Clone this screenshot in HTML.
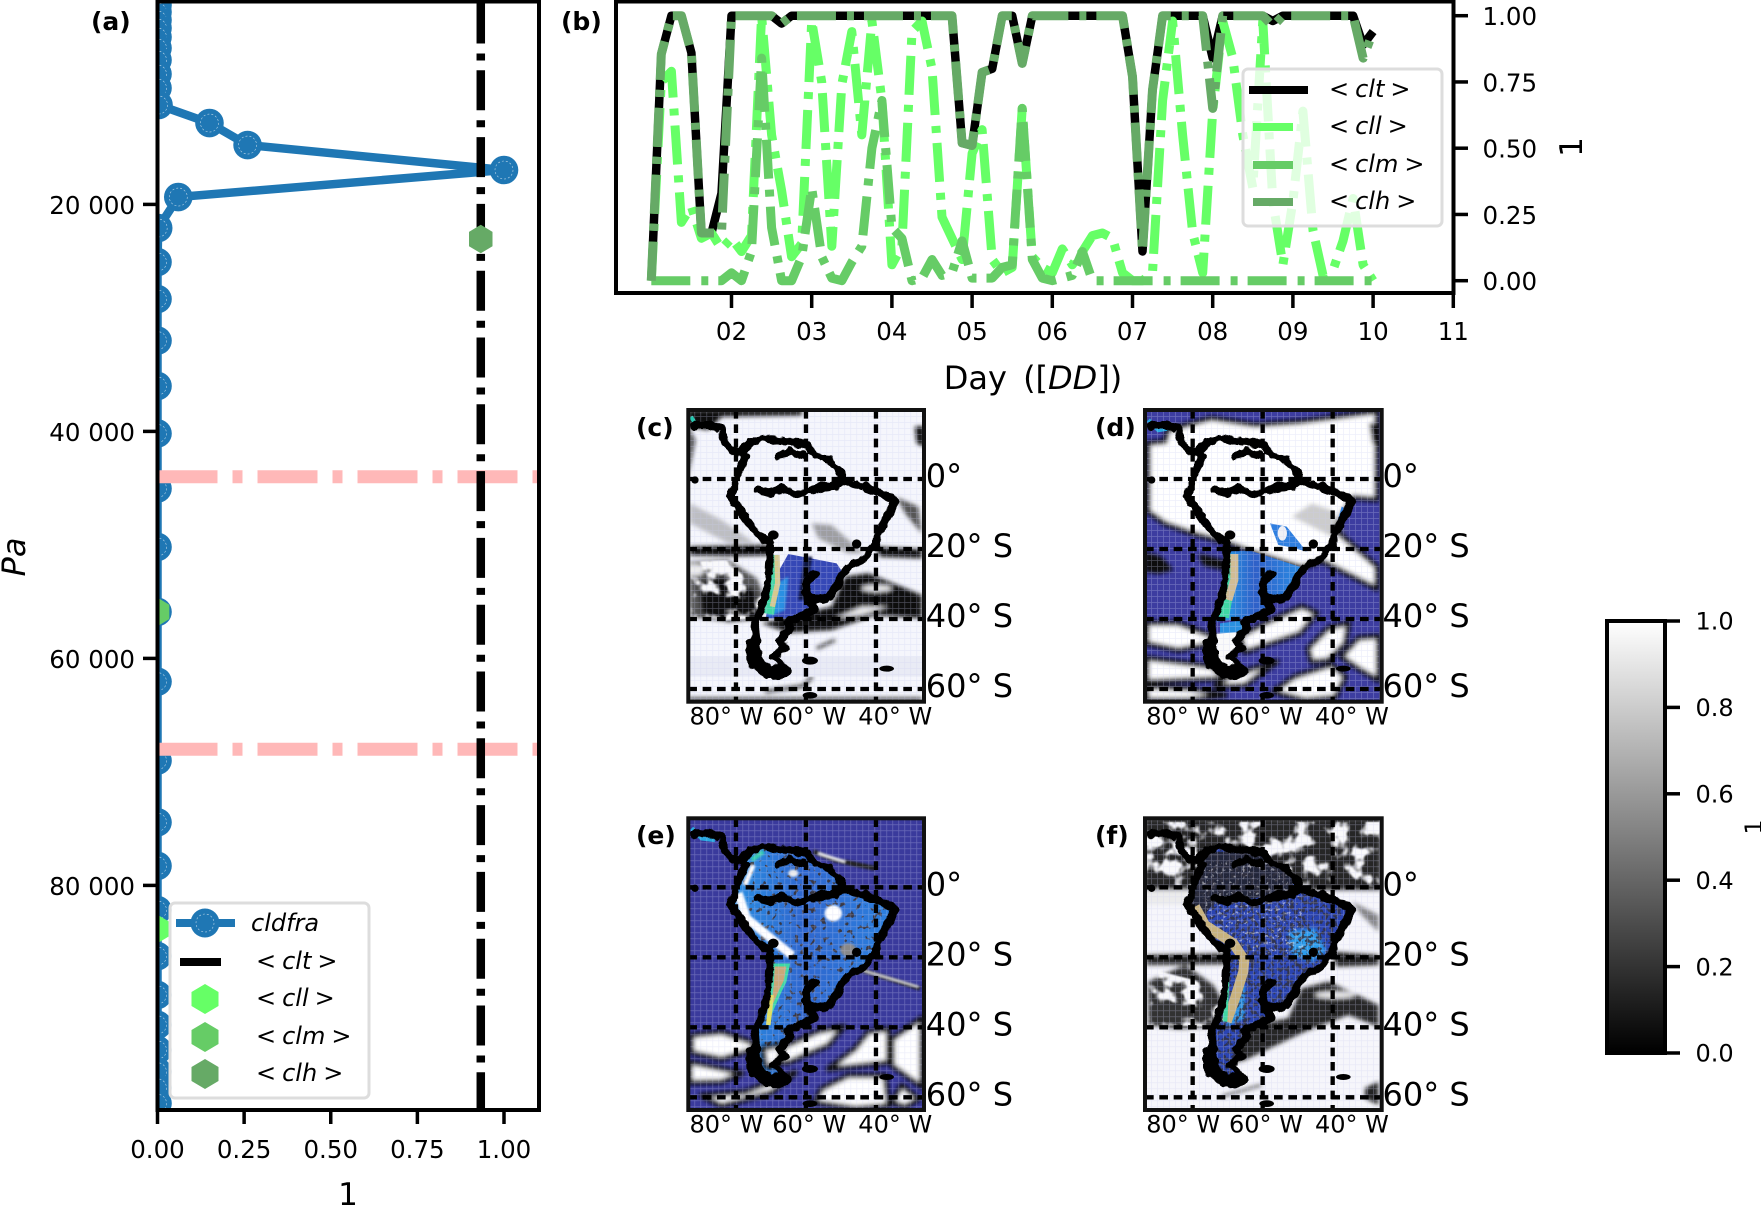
<!DOCTYPE html>
<html lang="en">
<head>
<meta charset="utf-8">
<title>Cloud fraction figure</title>
<style>
html,body{margin:0;padding:0;background:#fff;overflow:hidden}
svg{display:block}
text{font-family:"DejaVu Sans","Liberation Sans",sans-serif;fill:#000}
.cloud{fill:#fff;stroke:#111;stroke-width:16;stroke-linejoin:round}
.dark{fill:#111}
.grey{fill:#555}
.lgt{fill:#ececec}
.coast{fill:none;stroke:#000;stroke-width:24;stroke-linejoin:round;stroke-linecap:round}
.gl{stroke:#000;stroke-width:13;stroke-dasharray:26 17;fill:none}
.maptick{font-size:32px}
.maplon{font-size:24px}
.plabel{font-size:25px;font-weight:bold}
</style>
</head>
<body>
<svg id="fig" xmlns="http://www.w3.org/2000/svg" width="1761" height="1206" viewBox="0 0 1761 1206">
<defs>
  <clipPath id="clipA"><rect x="157.5" y="1.5" width="381.5" height="1108.5"/></clipPath>
  <clipPath id="clipMap"><rect x="0" y="0" width="707" height="875"/></clipPath>
  <clipPath id="clipLand"><path d="M155 130 185 100 225 85 275 95 345 100 385 135 425 150 450 180 465 210 525 232 585 250 620 275 595 320 570 370 560 410 525 445 475 475 450 520 415 570 370 560 375 600 335 620 295 635 305 660 275 690 290 710 255 740 295 780 255 795 205 770 195 740 205 700 200 650 220 590 240 530 245 440 245 400 195 360 155 300 125 260 145 210 170 140Z"/></clipPath>
  <linearGradient id="greys" x1="0" y1="0" x2="0" y2="1"><stop offset="0" stop-color="#fff"/><stop offset="1" stop-color="#000"/></linearGradient>
  <linearGradient id="landBlue" x1="0" y1="0" x2="1" y2="0"><stop offset="0" stop-color="#24a4ea"/><stop offset=".45" stop-color="#2f60c8"/><stop offset="1" stop-color="#2a8ce4"/></linearGradient>
  <filter id="blur" x="-10%" y="-10%" width="120%" height="120%"><feGaussianBlur stdDeviation="6"/></filter>
  <filter id="blurS" x="-10%" y="-10%" width="120%" height="120%"><feGaussianBlur stdDeviation="3"/></filter>
  <filter id="speck" x="0" y="0" width="100%" height="100%">
    <feTurbulence type="fractalNoise" baseFrequency=".085" numOctaves="2" seed="4" result="n"/>
    <feColorMatrix in="n" type="matrix" values="0 0 0 0 0.03  0 0 0 0 0.03  0 0 0 0 0.05  9 0 0 0 -4.4" result="m"/>
    <feComposite in="m" in2="SourceAlpha" operator="in"/>
  </filter>
  <filter id="speckSparse" x="0" y="0" width="100%" height="100%">
    <feTurbulence type="fractalNoise" baseFrequency=".06" numOctaves="2" seed="21" result="n"/>
    <feColorMatrix in="n" type="matrix" values="0 0 0 0 0.04  0 0 0 0 0.04  0 0 0 0 0.06  14 0 0 0 -8.6" result="m"/>
    <feComposite in="m" in2="SourceAlpha" operator="in"/>
  </filter>
  <filter id="speckW" x="0" y="0" width="100%" height="100%">
    <feTurbulence type="fractalNoise" baseFrequency=".1" numOctaves="2" seed="11" result="n"/>
    <feColorMatrix in="n" type="matrix" values="0 0 0 0 0.9  0 0 0 0 0.9  0 0 0 0 0.92  9 0 0 0 -5.6" result="m"/>
    <feComposite in="m" in2="SourceAlpha" operator="in"/>
  </filter>
  <filter id="mottle" x="0" y="0" width="100%" height="100%">
    <feTurbulence type="fractalNoise" baseFrequency=".018" numOctaves="3" seed="9" result="n"/>
    <feColorMatrix in="n" type="matrix" values="0 0 0 0 0.95  0 0 0 0 0.95  0 0 0 0 0.97  8 0 0 0 -3.9" result="m"/>
    <feComposite in="m" in2="SourceAlpha" operator="in" result="c"/>
    <feGaussianBlur in="c" stdDeviation="2.5"/>
  </filter>
  <filter id="wobble" x="-5%" y="-5%" width="110%" height="110%">
    <feTurbulence type="fractalNoise" baseFrequency=".035" numOctaves="2" seed="7" result="w"/>
    <feDisplacementMap in="SourceGraphic" in2="w" scale="22" xChannelSelector="R" yChannelSelector="G"/>
  </filter>
  <pattern id="gridtex" width="18" height="18" patternUnits="userSpaceOnUse"><path d="M0 1H18M1 0V18" stroke="#c9cdf0" stroke-width="2.5" opacity=".32"/></pattern>
  <path id="land" d="M155 130 185 100 225 85 275 95 345 100 385 135 425 150 450 180 465 210 525 232 585 250 620 275 595 320 570 370 560 410 525 445 475 475 450 520 415 570 370 560 375 600 335 620 295 635 305 660 275 690 290 710 255 740 295 780 255 795 205 770 195 740 205 700 200 650 220 590 240 530 245 440 245 400 195 360 155 300 125 260 145 210 170 140Z"/>
  <g id="coastline">
    <g filter="url(#wobble)">
      <use href="#land" class="coast"/>
      <path class="coast" d="M20 45 65 45 100 55 105 85 125 115 155 130"/>
      <path class="coast" d="M210 240 245 250 285 235 325 255 385 235 445 225 465 210"/>
      <path class="coast" d="M270 135 305 125 345 135"/>
      <path class="coast" d="M380 490 355 520 350 550 370 560"/>
      <path class="coast" style="stroke-width:42" d="M195 705 195 750 240 788 285 785"/>
    </g>
    <ellipse cx="255" cy="375" rx="16" ry="14"/>
    <ellipse cx="365" cy="752" rx="24" ry="12"/>
    <ellipse cx="595" cy="776" rx="22" ry="9"/>
    <circle cx="20" cy="210" r="11"/>
    <ellipse cx="365" cy="856" rx="22" ry="10"/>
    <circle cx="505" cy="402" r="14"/>
  </g>
  <g id="mapgrid">
    <path class="gl" d="M143 0V875M353 0V875M563 0V875"/>
    <path class="gl" d="M0 207H707M0 417H707M0 627H707M0 837H707"/>
  </g>
</defs>

<rect width="1761" height="1206" fill="#fff"/>

<!-- Panel (a) -->
<g id="panelA">
  <g id="aMarks" clip-path="url(#clipA)"></g>
  <rect x="157.5" y="1.5" width="381.5" height="1108.5" fill="none" stroke="#000" stroke-width="4"/>
  <g id="aAxes"></g>
  <text x="348" y="1205" font-size="31" text-anchor="middle">1</text>
  <text transform="translate(25,557) rotate(-90)" font-size="32" font-style="italic" text-anchor="middle">Pa</text>
  <text class="plabel" x="91" y="30">(a)</text>
  <g id="aLegend">
    <rect x="170" y="903" width="199" height="195" rx="5" fill="#fff" fill-opacity=".8" stroke="#ddd" stroke-width="3"/>
    <text x="251" y="931" font-size="24" font-style="italic">cldfra</text>
    <text x="256" y="969" font-size="24">&lt;<tspan dx="6" font-style="italic">clt</tspan><tspan dx="6">&gt;</tspan></text>
    <text x="256" y="1006" font-size="24">&lt;<tspan dx="6" font-style="italic">cll</tspan><tspan dx="6">&gt;</tspan></text>
    <text x="256" y="1044" font-size="24">&lt;<tspan dx="6" font-style="italic">clm</tspan><tspan dx="6">&gt;</tspan></text>
    <text x="256" y="1081" font-size="24">&lt;<tspan dx="6" font-style="italic">clh</tspan><tspan dx="6">&gt;</tspan></text>
    <line x1="176" x2="235" y1="923" y2="923" stroke="#1f77b4" stroke-width="8"/>
    <circle cx="205" cy="923" r="14.5" fill="#1f77b4"/>
    <circle cx="205" cy="923" r="9" fill="none" stroke="#fff" stroke-opacity=".7" stroke-width=".6" stroke-dasharray="2 2"/>
    <line x1="180" x2="221" y1="962" y2="962" stroke="#000" stroke-width="8"/>
    <polygon points="205,984 218.5,992 218.5,1006 205,1014 191.5,1006 191.5,992" fill="#66ff66"/>
    <polygon points="205,1022 218.5,1030 218.5,1044 205,1052 191.5,1044 191.5,1030" fill="#66cc66"/>
    <polygon points="205,1059 218.5,1067 218.5,1081 205,1089 191.5,1081 191.5,1067" fill="#66aa66"/>
  </g>
</g>

<!-- Panel (b) -->
<g id="panelB">
  <g id="bMarks"></g>
  <rect x="616" y="1.5" width="837.5" height="291.5" fill="none" stroke="#000" stroke-width="4"/>
  <g id="bAxes"></g>
  <text x="1033" y="389" font-size="32" text-anchor="middle">Day  <tspan dx="6">([</tspan><tspan font-style="italic">DD</tspan>])</text>
  <text transform="translate(1582,147) rotate(-90)" font-size="31" text-anchor="middle">1</text>
  <text class="plabel" x="561" y="30">(b)</text>
  <g id="bLegend">
    <rect x="1243" y="69" width="199" height="157" rx="5" fill="#fff" fill-opacity=".8" stroke="#ddd" stroke-width="3"/>
    <line x1="1249" x2="1308" y1="90" y2="90" stroke="#000" stroke-width="8"/>
    <line x1="1253" x2="1293" y1="127" y2="127" stroke="#66ff66" stroke-width="8"/>
    <line x1="1253" x2="1293" y1="165" y2="165" stroke="#66cc66" stroke-width="8"/>
    <line x1="1253" x2="1293" y1="202" y2="202" stroke="#66aa66" stroke-width="8"/>
    <text x="1329" y="97" font-size="24">&lt;<tspan dx="6" font-style="italic">clt</tspan><tspan dx="6">&gt;</tspan></text>
    <text x="1329" y="134" font-size="24">&lt;<tspan dx="6" font-style="italic">cll</tspan><tspan dx="6">&gt;</tspan></text>
    <text x="1329" y="172" font-size="24">&lt;<tspan dx="6" font-style="italic">clm</tspan><tspan dx="6">&gt;</tspan></text>
    <text x="1329" y="209" font-size="24">&lt;<tspan dx="6" font-style="italic">clh</tspan><tspan dx="6">&gt;</tspan></text>
  </g>
</g>

<!-- Map (c) -->
<g transform="translate(688.3,410)">
  <g transform="scale(.33333)" clip-path="url(#clipMap)">
    <rect width="707" height="875" fill="#f5f6fc"/>
    <g filter="url(#blur)">
      <path class="dark" d="M0 0H340V16L100 20 60 60 0 50Z"/>
      <path class="dark" d="M0 50L22 90 0 200Z" opacity=".7"/>
      <path class="dark" d="M5 410 L240 405 240 436 120 438 5 436Z"/>
      <path class="grey" d="M5 455 L120 450 205 505 230 565 215 625 100 632 5 620Z"/>
      <path class="dark" d="M30 520 L100 500 200 540 215 625 120 635 40 610Z"/>
      <ellipse class="lgt" cx="20" cy="480" rx="28" ry="18"/>
      <path class="dark" d="M220 640 L430 590 470 500 540 490 700 555 700 625 560 615 430 660 300 668Z"/>
      <ellipse class="lgt" cx="565" cy="535" rx="45" ry="10"/>
      <path class="lgt" d="M440 625 L520 590 600 590 520 615Z"/>
      <path class="dark" d="M560 410 L700 418 700 445 575 440Z"/>
      <path class="grey" d="M625 262 L690 290 700 370 650 310Z"/>
      <path class="dark" d="M680 50H707V110L685 100Z"/>
      <path class="grey" d="M5 280 L100 330 200 400 120 400 5 340Z" opacity=".35"/>
      <path class="grey" d="M370 340 L430 345 525 430 480 430 390 385Z" opacity=".55"/>
      <path d="M230 845 L345 828 372 800" fill="none" stroke="#222" stroke-width="9"/>
      <path d="M385 715 L440 690" fill="none" stroke="#333" stroke-width="9"/>
      <path d="M0 868H700" stroke="#222" stroke-width="10"/>
    </g>
    <path d="M5 455 L120 450 205 505 230 565 215 625 100 632 5 620Z" filter="url(#mottle)"/>
    <rect x="0" y="740" width="707" height="60" fill="#e9ebf5"/>
    <g clip-path="url(#clipLand)">
      <path d="M300 432 L445 460 465 490 430 560 375 600 300 625 232 625 250 520Z" fill="#3548b6"/>
      <path d="M248 530 L300 500 290 600 238 622Z" fill="#2a8fe2" filter="url(#blurS)"/>
      <path d="M348 440 L372 440 350 570 330 570Z" fill="#101840" filter="url(#blurS)"/>
      <path d="M255 435 258 520 242 612" fill="none" stroke="#3fd8a4" stroke-width="30"/>
      <path d="M266 435 268 520 252 590" fill="none" stroke="#d6c98f" stroke-width="16"/>
    </g>
    <path d="M8 20 L30 55" stroke="#25c8b0" stroke-width="12"/>
    <rect width="707" height="875" fill="url(#gridtex)"/>
    <use href="#coastline"/><use href="#mapgrid"/>
  </g>
  <rect x="0" y="0" width="235.7" height="291.7" fill="none" stroke="#111" stroke-width="4"/>
  <g>
    <text class="maptick" x="237.5" y="77.2">0°</text><text class="maptick" x="237.5" y="147.2">20° S</text><text class="maptick" x="237.5" y="217.2">40° S</text><text class="maptick" x="237.5" y="287.2">60° S</text>
  </g>
  <g>
    <text class="maplon" x="1.2" y="314.3">80° W</text><text class="maplon" x="84" y="314.3">60° W</text><text class="maplon" x="170" y="314.3">40° W</text>
  </g>
</g>
<text class="plabel" x="636" y="436">(c)</text>

<!-- Map (d) -->
<g transform="translate(1145,410)">
  <g transform="scale(.33333)" clip-path="url(#clipMap)">
    <rect width="707" height="875" fill="#3d3da0"/>
    <g filter="url(#blur)">
      <path class="cloud" d="M10 100 L60 95 70 60 200 25 330 45 470 35 695 5 695 268 625 262 600 300 572 362 695 470 695 535 530 452 470 472 310 422 240 395 150 372 60 340 10 305Z"/>
      <path class="dark" d="M672 40H707V115L682 100Z"/>
      <path class="grey" d="M560 380 L610 370 560 300 500 280 440 320Z" opacity=".3"/>
      <path class="dark" d="M0 425 L50 440 85 480 40 492 0 485Z"/>
      <path class="cloud" d="M170 440 L250 462 250 476 180 460Z"/>
      <path class="cloud" d="M5 640 L100 640 205 680 205 700 100 720 5 700Z"/>
      <path class="cloud" d="M285 680 L350 645 470 590 515 610 465 670 300 725Z"/>
      <path class="cloud" d="M490 715 L550 655 610 640 600 700 550 750 500 755Z"/>
      <path class="cloud" d="M590 740 L640 685 700 680 700 810 640 775Z"/>
      <path class="cloud" d="M5 745 L200 770 240 805 5 815Z"/>
      <path class="cloud" d="M250 800 L395 755 300 825 210 830Z"/>
      <path class="cloud" d="M385 845 L450 800 560 765 600 800 570 862 480 870Z"/>
      <path class="cloud" d="M5 830 L130 835 240 855 130 870 5 870Z"/>
    </g>
    <g clip-path="url(#clipLand)">
      <path d="M240 425 L315 422 470 472 450 520 415 570 375 600 335 620 215 635 240 530Z" fill="url(#landBlue)"/>
      <path d="M225 640 L300 630 300 670 225 670Z" fill="#2a90e0"/>
      <path d="M200 672 L305 665 290 800 200 800Z" fill="#fafafa"/>
      <path d="M252 432 254 520 236 622" fill="none" stroke="#3fd8a4" stroke-width="32"/>
      <path d="M268 432 268 510 250 570" fill="none" stroke="#d0bd95" stroke-width="24"/>
      <path d="M375 340 L425 350 485 425 440 412 400 405Z" fill="#2f7fe0"/>
      <ellipse cx="412" cy="370" rx="14" ry="22" fill="#f0f0f5"/>
      <path d="M590 290 L610 300 570 360Z" fill="#2f7fe0"/>
    </g>
    <path d="M10 30 L40 60 70 55" fill="none" stroke="#28a8e0" stroke-width="13"/>
    <rect width="707" height="875" fill="url(#gridtex)"/>
    <use href="#coastline"/><use href="#mapgrid"/>
  </g>
  <rect x="0" y="0" width="236.7" height="291.7" fill="none" stroke="#111" stroke-width="4"/>
  <g>
    <text class="maptick" x="237.5" y="77.2">0°</text><text class="maptick" x="237.5" y="147.2">20° S</text><text class="maptick" x="237.5" y="217.2">40° S</text><text class="maptick" x="237.5" y="287.2">60° S</text>
  </g>
  <g>
    <text class="maplon" x="1.2" y="314.3">80° W</text><text class="maplon" x="84" y="314.3">60° W</text><text class="maplon" x="170" y="314.3">40° W</text>
  </g>
</g>
<text class="plabel" x="1095" y="436">(d)</text>

<!-- Map (e) -->
<g transform="translate(688.3,818.3)">
  <g transform="scale(.33333)" clip-path="url(#clipMap)">
    <rect width="707" height="875" fill="#3a3a9c"/>
    <use href="#land" fill="url(#landBlue)"/>
    <use href="#land" fill="#2f70d8" opacity=".4"/>
    <use href="#land" filter="url(#speckSparse)"/>
    <g filter="url(#blur)">
      <path class="cloud" d="M10 652 L100 642 190 672 200 692 100 722 10 702Z"/>
      <path class="cloud" d="M272 692 L390 640 465 625 420 680 300 732 272 732Z"/>
      <path class="cloud" d="M420 752 L500 692 540 642 600 632 600 732 510 742Z"/>
      <path class="cloud" d="M612 662 L700 600 700 805 612 742Z"/>
      <path class="cloud" d="M5 732 L160 765 100 790 5 792Z"/>
      <path class="cloud" d="M40 832 L170 822 320 762 250 822 100 862Z"/>
      <path class="cloud" d="M380 852 L400 812 480 772 590 772 600 862 500 870Z"/>
      <path class="cloud" d="M612 852 L640 802 690 842 650 865Z"/>
      <path class="cloud" d="M225 690 L285 680 270 740 232 745Z"/>
    </g>
    <g filter="url(#blurS)">
      <path d="M525 457 L695 510" fill="none" stroke="#222" stroke-width="14"/>
      <path d="M525 457 L690 505" fill="none" stroke="#eee" stroke-width="5"/>
      <path d="M375 100 L440 125 560 150" fill="none" stroke="#222" stroke-width="14"/>
      <path d="M390 105 L470 130" fill="none" stroke="#eee" stroke-width="8"/>
      <path d="M150 225 175 300 260 370 312 412" fill="none" stroke="#fff" stroke-width="26"/>
      <ellipse cx="435" cy="285" rx="26" ry="24" fill="#fff"/>
      <ellipse cx="315" cy="165" rx="15" ry="11" fill="#eee"/>
      <ellipse cx="480" cy="395" rx="24" ry="20" fill="#888"/>
      <path d="M190 125 L225 100" stroke="#34d0b0" stroke-width="14"/>
      <path d="M170 200 L195 140" stroke="#fff" stroke-width="14"/>
    </g>
    <path d="M255 440 L300 440 290 490 275 520 240 600 252 500Z" fill="#caa878" stroke="#3fd8a4" stroke-width="9"/>
    <path d="M250 530 240 620" stroke="#e0e060" stroke-width="14"/>
    <path d="M10 30 L40 60 80 65" fill="none" stroke="#28a8e0" stroke-width="13"/>
    <rect width="707" height="875" fill="url(#gridtex)"/>
    <use href="#coastline"/><use href="#mapgrid"/>
  </g>
  <rect x="0" y="0" width="235.7" height="291.7" fill="none" stroke="#111" stroke-width="4"/>
  <g>
    <text class="maptick" x="237.5" y="77.2">0°</text><text class="maptick" x="237.5" y="147.2">20° S</text><text class="maptick" x="237.5" y="217.2">40° S</text><text class="maptick" x="237.5" y="287.2">60° S</text>
  </g>
  <g>
    <text class="maplon" x="1.2" y="314.3">80° W</text><text class="maplon" x="84" y="314.3">60° W</text><text class="maplon" x="170" y="314.3">40° W</text>
  </g>
</g>
<text class="plabel" x="636" y="844">(e)</text>

<!-- Map (f) -->
<g transform="translate(1145,818.3)">
  <g transform="scale(.33333)" clip-path="url(#clipMap)">
    <rect width="707" height="875" fill="#f6f6fb"/>
    <g filter="url(#blur)">
      <path fill="#262626" d="M0 0H707V215H460L0 215Z"/>
      <path class="lgt" d="M0 215 H130 L120 260 H0Z"/>
      <path fill="#333" d="M10 490 L120 440 205 500 240 560 210 625 100 632 10 620Z"/>
      <path fill="#262626" d="M215 640 L430 600 470 510 550 490 700 560 700 625 610 590 480 640 300 725 260 735 240 660Z"/>
      <ellipse class="lgt" cx="570" cy="530" rx="60" ry="10"/>
      <path fill="#262626" d="M5 410 L240 405 240 438 5 440Z"/>
      <path fill="#333" d="M620 250 L700 290 700 340 650 290Z" opacity=".6"/>
      <path fill="#222" d="M560 400 L700 410 700 440 575 445Z"/>
      <path fill="#222" d="M660 810 L700 790 700 860 660 840Z"/>
      <path d="M230 835 L350 800" stroke="#333" stroke-width="6"/>
    </g>
    <path d="M0 10H707V205H0Z" filter="url(#mottle)"/>
    <path d="M10 450 L205 500 240 560 210 625 10 620Z" filter="url(#mottle)"/>
    <g clip-path="url(#clipLand)">
      <use href="#land" fill="#2a44b2"/>
      <path d="M130 100 H470 L440 215 330 240 210 250 170 300 120 260Z" fill="#22263a"/>
      <path d="M430 340 L510 330 545 400 500 430 440 410Z" fill="#2a9cec" filter="url(#blur)"/>
      <path d="M260 520 L300 500 300 600 245 625Z" fill="#2a90e0" filter="url(#blurS)"/>
      <use href="#land" filter="url(#speck)" opacity=".85"/>
      <path d="M170 130 H470 L480 420 300 400 210 330 170 280Z" filter="url(#speckW)" opacity=".5"/>
      <path d="M150 265 180 320 265 375 298 425 295 460 270 540 245 610" fill="none" stroke="#c8b27e" stroke-width="30" stroke-linejoin="round"/>
      <path d="M248 450 240 610" fill="none" stroke="#3fd8a4" stroke-width="14"/>
    </g>
    <rect width="707" height="875" fill="url(#gridtex)"/>
    <use href="#coastline"/><use href="#mapgrid"/>
  </g>
  <rect x="0" y="0" width="236.7" height="291.7" fill="none" stroke="#111" stroke-width="4"/>
  <g>
    <text class="maptick" x="237.5" y="77.2">0°</text><text class="maptick" x="237.5" y="147.2">20° S</text><text class="maptick" x="237.5" y="217.2">40° S</text><text class="maptick" x="237.5" y="287.2">60° S</text>
  </g>
  <g>
    <text class="maplon" x="1.2" y="314.3">80° W</text><text class="maplon" x="84" y="314.3">60° W</text><text class="maplon" x="170" y="314.3">40° W</text>
  </g>
</g>
<text class="plabel" x="1095" y="844">(f)</text>

<!-- Colorbar -->
<g id="cbar">
  <rect x="1607" y="621" width="58" height="432" fill="url(#greys)" stroke="#000" stroke-width="4"/>
  <g id="cbarTicks"></g>
  <text transform="translate(1762,827) rotate(-90)" font-size="24" text-anchor="middle">1</text>
</g>

<script>
const pressureLevels = [2432,3048,3753,4458,5251,6220,7278,8511,9744,11242,12830,14770,16970,19350,22080,25080,28340,32000,36000,40180,45030,50180,55900,62050,69000,74440,78280,82170,86230,89650,92290,94500,96420,97840,99200];
const cldfraValues = [0,0,0,0,0,0,0,0,0,0.003,0.15,0.26,1,0.06,0.002,0,0,0,0,0,0,0,0,0,0,0,0,0,0,0,0,0,0,0,0];
const meanClt = 0.933;
const cllMarker = [0, 83840];
const clmMarker = [0, 55900];
const clhMarker = [0.933, 23050];
const referenceLevels = [44000, 68000];
const xTicksA = [0, 0.25, 0.5, 0.75, 1];
const xTickLabelsA = ['0.00', '0.25', '0.50', '0.75', '1.00'];
const yTicksA = [20000, 40000, 60000, 80000];
const yTickLabelsA = ['20 000', '40 000', '60 000', '80 000'];

const stepsPerDay = 8;
const cltSeries = [0,.855,1,1,.86,.18,.18,.33,1,1,1,1,1,.97,1,1,1,1,1,1,1,1,1,1,1,1,1,1,1,1,1,.52,.51,.786,.8,1,1,.82,1,1,1,1,1,1,1,1,1,1,.77,.11,.72,1,1,1,1,1,.84,1,1,1,1,1,.98,1,1,1,1,1,1,1,1,.89,.94];
const cllSeries = [0,.75,.79,.22,.28,.16,.18,.12,.16,.11,.17,1,.55,.34,.09,.14,.98,.75,.13,.74,.94,.55,.98,.68,.06,.13,.94,.98,.8,.24,.16,.08,.48,.57,.08,.03,.05,.65,.09,.05,.03,.12,.06,.11,.17,.18,.16,.03,0,0,.03,.68,.98,.55,.18,.03,.64,.98,.84,.55,.35,.98,.3,.06,.3,.64,.19,.02,.04,.15,.31,.06,0];
const clmSeries = [0,0,0,0,0,0,0,0,.03,0,.11,.84,.2,0,0,.09,.35,.09,.01,0,.07,.13,.5,.68,.2,.16,0,.01,.08,.02,.03,.15,.01,.01,.01,.05,.06,.65,.08,.01,0,.01,.02,.11,0,0,0,0,0,0,0,0,0,0,0,0,0,0,0,0,0,0,0,0,0,0,0,0,0,0,0,0,0];
const clhSeries = [0,.855,1,1,.86,.18,.18,.18,1,1,1,1,1,.97,1,1,1,1,1,1,1,1,1,1,1,1,1,1,1,1,1,.52,.51,.786,.8,1,1,.82,1,1,1,1,1,1,1,1,1,1,.77,.11,.72,1,1,1,1,1,.65,1,1,1,1,1,.96,1,1,1,1,1,1,1,1,.84,.94];
const xTicksB = [2,3,4,5,6,7,8,9,10,11];
const xTickLabelsB = ['02','03','04','05','06','07','08','09','10','11'];
const yTicksB = [0,0.25,0.5,0.75,1];
const yTickLabelsB = ['0.00','0.25','0.50','0.75','1.00'];

const cbarTicks = [0,0.2,0.4,0.6,0.8,1];
const cbarTickLabels = ['0.0','0.2','0.4','0.6','0.8','1.0'];

const NS = 'http://www.w3.org/2000/svg';
function xA(v){ return 157.5 + 346.5 * v; }
function yA(p){ return 204.4 + (p - 20000) * 0.01135; }
function xB(d){ return 731.5 + 80.2 * (d - 2); }
function yB(v){ return 280.7 - 265 * v; }
function yC(v){ return 1053 - 432 * v; }
function mk(parent, tag, attrs, txt){
  const el = document.createElementNS(NS, tag);
  for (const k in attrs) el.setAttribute(k, attrs[k]);
  if (txt !== undefined) el.textContent = txt;
  parent.appendChild(el);
  return el;
}
function hexPoints(cx, cy, r){
  const pts = [];
  for (let k = 0; k < 6; k++) {
    const a = Math.PI / 3 * k - Math.PI / 2;
    pts.push((cx + r * 0.95 * Math.cos(a)).toFixed(1) + ',' + (cy + r * Math.sin(a)).toFixed(1));
  }
  return pts.join(' ');
}

const aMarks = document.getElementById('aMarks');
const aAxes = document.getElementById('aAxes');
const bMarks = document.getElementById('bMarks');
const bAxes = document.getElementById('bAxes');
const cbT = document.getElementById('cbarTicks');

/* panel a : profile line */
const profilePts = pressureLevels.map((p, i) => xA(cldfraValues[i]).toFixed(1) + ',' + yA(p).toFixed(1)).join(' ');
const profileLine = mk(aMarks, 'polyline', {points: profilePts, fill: 'none', stroke: '#1f77b4', 'stroke-width': 8.5, 'stroke-linejoin': 'round'});


pressureLevels.forEach((p, i) => {
  const dot = mk(aMarks, 'circle', {cx: xA(cldfraValues[i]), cy: yA(p), r: 14.3, fill: '#1f77b4'});
  
  
  const inner = mk(aMarks, 'circle', {cx: xA(cldfraValues[i]), cy: yA(p), r: 9, fill: 'none', stroke: '#fff', 'stroke-opacity': 0.7, 'stroke-width': 0.6, 'stroke-dasharray': '2 2'});
  
  
});
referenceLevels.forEach(p => {
  const ln = mk(aMarks, 'line', {x1: xA(0), x2: xA(1.1), y1: yA(p), y2: yA(p), stroke: '#ffb8b8', 'stroke-width': 13, 'stroke-dasharray': '60 15 10 15'});
  
  
});
const cltLine = mk(aMarks, 'line', {x1: xA(meanClt), x2: xA(meanClt), y1: 3.5, y2: 1112, stroke: '#000', 'stroke-width': 8.5, 'stroke-dasharray': '40 10 7 9.8'});


const hexCll = mk(aMarks, 'polygon', {points: hexPoints(xA(cllMarker[0]), yA(cllMarker[1]), 14.3), fill: '#66ff66'});


const hexClm = mk(aMarks, 'polygon', {points: hexPoints(xA(clmMarker[0]), yA(clmMarker[1]), 14.3), fill: '#66cc66'});


const hexClh = mk(aMarks, 'polygon', {points: hexPoints(xA(clhMarker[0]), yA(clhMarker[1]), 14.3), fill: '#66aa66'});



/* panel a : axes */
xTicksA.forEach((v, i) => {
  const t = mk(aAxes, 'line', {x1: xA(v), x2: xA(v), y1: 1110, y2: 1124, stroke: '#000', 'stroke-width': 3.5});
  
  
  const l = mk(aAxes, 'text', {x: xA(v), y: 1158, 'font-size': 24.5, 'text-anchor': 'middle'}, xTickLabelsA[i]);
  
  
});
yTicksA.forEach((v, i) => {
  const t = mk(aAxes, 'line', {x1: 143, x2: 157.5, y1: yA(v), y2: yA(v), stroke: '#000', 'stroke-width': 3.5});
  
  
  const l = mk(aAxes, 'text', {x: 135, y: yA(v) + 9.5, 'font-size': 24.5, 'text-anchor': 'end'}, yTickLabelsA[i]);
  
  
});

/* panel b : series */
function seriesPts(arr){
  return arr.map((v, i) => xB(1 + i / stepsPerDay).toFixed(1) + ',' + yB(v).toFixed(1)).join(' ');
}
const cltPoly = mk(bMarks, 'polyline', {points: seriesPts(cltSeries), fill: 'none', stroke: '#000', 'stroke-width': 8.5, 'stroke-linejoin': 'round'});


const cllPoly = mk(bMarks, 'polyline', {points: seriesPts(cllSeries), fill: 'none', stroke: '#66ff66', 'stroke-width': 9, 'stroke-linejoin': 'round', 'stroke-dasharray': '39 11 7 10'});


const clmPoly = mk(bMarks, 'polyline', {points: seriesPts(clmSeries), fill: 'none', stroke: '#66cc66', 'stroke-width': 9, 'stroke-linejoin': 'round', 'stroke-dasharray': '39 11 7 10'});


const clhPoly = mk(bMarks, 'polyline', {points: seriesPts(clhSeries), fill: 'none', stroke: '#66aa66', 'stroke-width': 9, 'stroke-linejoin': 'round', 'stroke-dasharray': '39 11 7 10'});



/* panel b : axes */
xTicksB.forEach((v, i) => {
  const t = mk(bAxes, 'line', {x1: xB(v), x2: xB(v), y1: 293, y2: 308, stroke: '#000', 'stroke-width': 3.5});
  
  
  const l = mk(bAxes, 'text', {x: xB(v), y: 340, 'font-size': 24.5, 'text-anchor': 'middle'}, xTickLabelsB[i]);
  
  
});
yTicksB.forEach((v, i) => {
  const t = mk(bAxes, 'line', {x1: 1453.5, x2: 1468, y1: yB(v), y2: yB(v), stroke: '#000', 'stroke-width': 3.5});
  
  
  const l = mk(bAxes, 'text', {x: 1482.5, y: yB(v) + 9.3, 'font-size': 24.5}, yTickLabelsB[i]);
  
  
});

/* colorbar */
cbarTicks.forEach((v, i) => {
  const t = mk(cbT, 'line', {x1: 1665, x2: 1680, y1: yC(v), y2: yC(v), stroke: '#000', 'stroke-width': 3.5});
  
  
  const l = mk(cbT, 'text', {x: 1695.5, y: yC(v) + 8.7, 'font-size': 24}, cbarTickLabels[i]);
  
  
});
</script>
</svg>
</body>
</html>
